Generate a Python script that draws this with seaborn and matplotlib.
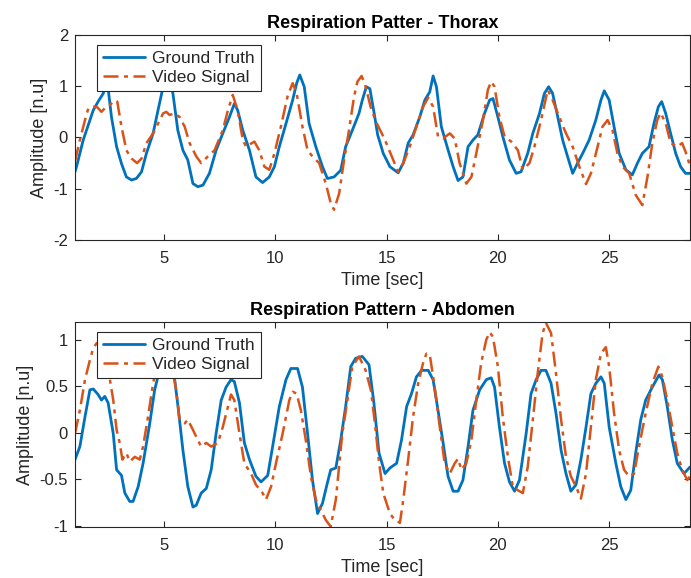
import matplotlib
matplotlib.use("Agg")
import matplotlib.pyplot as plt
import seaborn as sns
import pandas as pd

# thorax, ground truth (time in sec, amplitude in n.u.)
thorax_gt_t = [1.0, 1.07, 1.37, 1.82, 2.04, 2.27, 2.45, 2.64, 2.87, 3.09, 3.31, 3.54, 3.76, 3.99,
               4.21, 4.51, 4.73, 4.96, 5.2, 5.4, 5.62, 5.85, 6.07, 6.3, 6.52, 6.75, 7.04, 7.34,
               7.64, 7.94, 8.16, 8.31, 8.54, 8.84, 9.13, 9.43, 9.73, 9.96, 10.18, 10.48, 10.78,
               10.96, 11.1, 11.3, 11.52, 11.82, 12.12, 12.34, 12.64, 12.94, 13.16, 13.46, 13.76,
               13.91, 14.09, 14.25, 14.45, 14.6, 14.85, 15.15, 15.52, 15.75, 15.97, 16.19, 16.49,
               16.72, 16.94, 17.09, 17.24, 17.46, 17.76, 17.99, 18.21, 18.43, 18.66, 18.88, 19.1,
               19.4, 19.63, 19.78, 20.0, 20.22, 20.52, 20.82, 21.04, 21.34, 21.57, 21.87, 22.09,
               22.28, 22.46, 22.69, 22.91, 23.13, 23.36, 23.58, 23.81, 24.1, 24.4, 24.63, 24.78,
               25.0, 25.22, 25.45, 25.75, 26.04, 26.27, 26.49, 26.79, 27.01, 27.21, 27.36, 27.54,
               27.76, 27.99, 28.21, 28.43, 28.63]
thorax_gt = [-0.67, -0.57, -0.05, 0.53, 0.7, 0.86, 1.1, 0.4, -0.18, -0.51, -0.77, -0.83, -0.8, -0.67,
             -0.31, 0.08, 0.53, 0.99, 1.22, 0.86, 0.14, -0.25, -0.44, -0.9, -0.96, -0.93, -0.7, -0.25,
             0.08, 0.4, 0.66, 0.53, 0.14, -0.25, -0.77, -0.88, -0.77, -0.57, -0.18, 0.27, 0.73,
             1.06, 1.22, 0.99, 0.27, -0.18, -0.57, -0.8, -0.77, -0.64, -0.18, 0.14, 0.47,
             0.73, 0.99, 0.95, 0.45, 0.05, -0.31, -0.57, -0.69, -0.5, -0.11, 0.05, 0.4,
             0.73, 0.89, 1.2, 0.99, 0.21, -0.24, -0.57, -0.84, -0.77, -0.18, -0.05, 0.05,
             0.47, 0.73, 0.76, 0.4, 0.02, -0.44, -0.7, -0.67, -0.31, 0.08, 0.47, 0.86,
             0.99, 0.86, 0.4, -0.05, -0.37, -0.7, -0.5, -0.31, -0.05, 0.34, 0.73, 0.91,
             0.73, 0.21, -0.31, -0.63, -0.73, -0.5, -0.31, -0.18, 0.27, 0.6, 0.7, 0.47,
             0.08, -0.31, -0.57, -0.7, -0.7]

# thorax, video signal
thorax_vid_t = [1.0, 1.22, 1.45, 1.6, 1.82, 2.0, 2.19, 2.34, 2.57, 2.75, 2.9, 3.09, 3.31, 3.54, 3.79,
                3.99, 4.21, 4.51, 4.73, 4.96, 5.1, 5.25, 5.48, 5.7, 5.93, 6.15, 6.45, 6.67, 6.97,
                7.27, 7.64, 7.87, 8.09, 8.31, 8.54, 8.69, 9.06, 9.28, 9.51, 9.73, 9.96, 10.25,
                10.55, 10.78, 10.96, 11.22, 11.45, 11.67, 11.97, 12.27, 12.49, 12.64, 12.87, 13.09,
                13.31, 13.54, 13.69, 13.88, 14.06, 14.28, 14.51, 14.93, 15.3, 15.52, 15.75, 16.04,
                16.34, 16.64, 16.87, 17.09, 17.31, 17.54, 17.84, 18.06, 18.28, 18.58, 18.81, 19.03,
                19.33, 19.55, 19.7, 19.85, 20.07, 20.3, 20.6, 20.9, 21.12, 21.42, 21.64, 21.94,
                22.24, 22.46, 22.76, 23.06, 23.36, 23.66, 23.96, 24.18, 24.48, 24.7, 24.93, 25.15,
                25.37, 25.6, 25.9, 26.19, 26.49, 26.72, 26.94, 27.16, 27.31, 27.54, 27.76, 28.06,
                28.28, 28.51, 28.63]
thorax_vid = [-0.47, -0.05, 0.34, 0.57, 0.6, 0.59, 0.5, 0.57, 0.63, 0.72, 0.7, 0.21, -0.25, -0.41, -0.5,
              -0.41, -0.11, 0.08, 0.27, 0.47, 0.5, 0.44, 0.47, 0.4, 0.21, -0.11, -0.37, -0.5, -0.37,
              -0.25, 0.14, 0.53, 0.83, 0.53, -0.05, -0.18, -0.08, -0.25, -0.57, -0.63, -0.31, 0.21,
              0.8, 1.06, 0.86, 0.21, -0.25, -0.37, -0.5, -0.9, -1.28, -1.41, -1.09, -0.44,
              0.14, 0.8, 1.09, 1.2, 0.99, 0.6, 0.32, -0.05, -0.44, -0.67, -0.5, -0.18,
              0.21, 0.6, 0.78, 0.6, 0.02, -0.02, 0.08, -0.02, -0.5, -0.9, -0.77, -0.31,
              0.34, 0.93, 1.09, 0.99, 0.4, 0.02, -0.08, -0.25, -0.63, -0.5, -0.18, 0.34,
              0.93, 0.73, 0.4, 0.08, -0.18, -0.57, -0.91, -0.7, -0.18, 0.21, 0.34, 0.14,
              -0.31, -0.57, -0.7, -1.12, -1.32, -0.77, -0.11, 0.34, 0.48, 0.28, -0.11, -0.18,
              -0.11, -0.37, -0.57]

# abdomen, ground truth
abd_gt_t = [1.0, 1.22, 1.45, 1.67, 1.82, 2.04, 2.19, 2.34, 2.49, 2.72, 2.87, 3.09, 3.24, 3.46, 3.61,
            3.84, 4.06, 4.36, 4.58, 4.85, 5.1, 5.35, 5.48, 5.63, 5.85, 6.07, 6.3, 6.45, 6.67, 6.9,
            7.12, 7.34, 7.57, 7.79, 8.01, 8.16, 8.39, 8.61, 8.84, 9.13, 9.36, 9.66, 9.88, 10.18,
            10.48, 10.7, 11.0, 11.22, 11.45, 11.67, 11.9, 12.12, 12.34, 12.49, 12.72, 12.94,
            13.16, 13.39, 13.61, 13.91, 14.21, 14.43, 14.66, 14.93, 15.15, 15.45, 15.67, 15.9,
            16.12, 16.34, 16.57, 16.87, 17.09, 17.31, 17.54, 17.76, 17.99, 18.21, 18.43, 18.66,
            18.88, 19.18, 19.48, 19.7, 19.85, 20.07, 20.3, 20.52, 20.75, 20.97, 21.27, 21.49,
            21.72, 21.94, 22.16, 22.39, 22.61, 22.84, 23.06, 23.28, 23.51, 23.73, 23.96, 24.18,
            24.4, 24.63, 24.78, 25.0, 25.3, 25.52, 25.75, 25.97, 26.19, 26.42, 26.64, 26.94,
            27.24, 27.39, 27.61, 27.84, 28.06, 28.36, 28.63]
abd_gt = [-0.29, -0.15, 0.17, 0.46, 0.47, 0.41, 0.35, 0.39, 0.32, -0.01, -0.4, -0.46, -0.65, -0.74, -0.74,
          -0.58, -0.33, 0.1, 0.46, 0.72, 0.8, 0.7, 0.57, 0.28, -0.19, -0.58, -0.8, -0.78, -0.65, -0.6,
          -0.4, -0.01, 0.35, 0.49, 0.57, 0.55, 0.32, -0.11, -0.29, -0.47, -0.53, -0.46, -0.15, 0.28,
          0.57, 0.69, 0.69, 0.49, -0.01, -0.51, -0.87, -0.76, -0.54, -0.4, -0.38, -0.08,
          0.28, 0.71, 0.8, 0.82, 0.73, 0.32, -0.22, -0.44, -0.38, -0.33, -0.08, 0.28,
          0.42, 0.6, 0.67, 0.67, 0.57, 0.24, -0.11, -0.47, -0.63, -0.63, -0.51, -0.15,
          0.24, 0.46, 0.57, 0.59, 0.49, 0.06, -0.33, -0.53, -0.63, -0.51, -0.01, 0.42,
          0.57, 0.67, 0.67, 0.53, 0.21, -0.19, -0.44, -0.63, -0.56, -0.29, 0.06, 0.42,
          0.53, 0.6, 0.53, 0.06, -0.33, -0.58, -0.72, -0.62, -0.22, 0.14, 0.35, 0.49,
          0.62, 0.57, 0.28, -0.08, -0.33, -0.44, -0.37]

# abdomen, video signal
abd_vid_t = [1.0, 1.22, 1.45, 1.67, 1.82, 1.97, 2.2, 2.4, 2.57, 2.72, 2.87, 3.01, 3.13, 3.31, 3.46,
             3.69, 3.91, 4.06, 4.28, 4.51, 4.75, 5.05, 5.35, 5.55, 5.7, 5.93, 6.07, 6.3, 6.52,
             6.67, 6.9, 7.12, 7.42, 7.64, 7.87, 8.01, 8.16, 8.39, 8.61, 8.91, 9.13, 9.43, 9.58,
             9.81, 10.03, 10.33, 10.63, 10.78, 10.96, 11.15, 11.37, 11.6, 11.82, 12.04, 12.27,
             12.49, 12.72, 13.01, 13.24, 13.46, 13.76, 14.06, 14.3, 14.5, 14.65, 14.85, 15.15,
             15.37, 15.6, 15.75, 15.97, 16.19, 16.42, 16.64, 16.79, 16.94, 17.16, 17.39, 17.61,
             17.84, 18.06, 18.21, 18.36, 18.58, 18.81, 19.03, 19.25, 19.48, 19.63, 19.78, 20.0,
             20.22, 20.45, 20.67, 20.9, 21.12, 21.34, 21.57, 21.79, 22.01, 22.16, 22.39, 22.61,
             22.84, 23.06, 23.28, 23.51, 23.73, 23.96, 24.18, 24.4, 24.63, 24.85, 25.0, 25.22,
             25.45, 25.67, 25.9, 26.12, 26.34, 26.64, 26.94, 27.21, 27.39, 27.61, 27.84, 28.06,
             28.28, 28.51, 28.63]
abd_vid = [-0.01, 0.24, 0.57, 0.78, 0.91, 0.96, 1.0, 0.8, 0.57, 0.35, 0.03, -0.11, -0.29, -0.22, -0.31,
           -0.26, -0.29, -0.15, 0.17, 0.53, 0.8, 0.88, 0.75, 0.45, 0.14, 0.1, 0.14, 0.03, -0.08,
           -0.15, -0.11, -0.15, -0.11, 0.06, 0.28, 0.41, 0.35, -0.01, -0.33, -0.44, -0.56, -0.65, -0.72,
           -0.58, -0.33, -0.01, 0.35, 0.44, 0.42, 0.24, -0.08, -0.47, -0.72, -0.83, -0.94,
           -1.01, -0.72, -0.01, 0.35, 0.71, 0.82, 0.67, 0.45, 0.05, -0.3, -0.65, -0.87,
           -0.94, -0.97, -0.72, -0.29, 0.17, 0.53, 0.75, 0.85, 0.84, 0.49, 0.06, -0.33,
           -0.44, -0.33, -0.28, -0.4, -0.33, -0.08, 0.35, 0.75, 1.0, 1.08, 1.03, 0.71,
           0.17, -0.26, -0.58, -0.62, -0.65, -0.37, 0.14, 0.64, 1.07, 1.18, 1.07, 0.64,
           0.14, -0.26, -0.47, -0.58, -0.71, -0.44, 0.06, 0.57, 0.85, 0.92, 0.71, 0.21,
           -0.19, -0.4, -0.47, -0.44, -0.15, 0.21, 0.53, 0.71, 0.6, 0.35, 0.06, -0.22,
           -0.4, -0.51, -0.47]

BLUE = "#0072BD"
ORANGE = "#D95319"
DASHDOT = (0, (6, 2.2, 1.6, 2.2))

sns.set_style("ticks")
plt.rcParams["font.family"] = ["Liberation Sans", "DejaVu Sans"]

fig = plt.figure(figsize=(6.91, 5.78), dpi=100)
ax1 = fig.add_axes([0.1085, 0.5848, 0.89, 0.3547])
ax2 = fig.add_axes([0.1085, 0.0882, 0.89, 0.3547])

panels = [
    (ax1, thorax_gt_t, thorax_gt, thorax_vid_t, thorax_vid, "Respiration Patter - Thorax",
     (-2, 2), [-2, -1, 0, 1, 2], ["-2", "-1", "0", "1", "2"]),
    (ax2, abd_gt_t, abd_gt, abd_vid_t, abd_vid, "Respiration Pattern - Abdomen",
     (-1.015, 1.19), [-1, -0.5, 0, 0.5, 1], ["-1", "-0.5", "0", "0.5", "1"]),
]

for ax, gt_t, gt, vid_t, vid, title, ylim, yticks, ylabels in panels:
    gt_df = pd.DataFrame({"t": gt_t, "v": gt})
    vid_df = pd.DataFrame({"t": vid_t, "v": vid})
    sns.lineplot(data=gt_df, x="t", y="v", ax=ax, color=BLUE, linewidth=2.0,
                 label="Ground Truth", estimator=None, sort=False)
    sns.lineplot(data=vid_df, x="t", y="v", ax=ax, color=ORANGE, linewidth=1.8,
                 linestyle=DASHDOT, label="Video Signal", estimator=None, sort=False)

    ax.set_xlim(1, 28.63)
    ax.set_ylim(*ylim)
    ax.set_xticks([5, 10, 15, 20, 25])
    ax.set_xticklabels(["5", "10", "15", "20", "25"])
    ax.set_yticks(yticks)
    ax.set_yticklabels(ylabels)
    ax.set_title(title, fontsize=13, fontweight="bold", pad=5, color="black")
    ax.set_xlabel("Time [sec]", fontsize=13, color="#262626", labelpad=4)
    ax.set_ylabel("Amplitude [n.u]", fontsize=13, color="#262626", labelpad=4)
    ax.tick_params(direction="in", length=4, width=0.8, color="#262626",
                   labelsize=12, labelcolor="#262626", top=True, right=True, pad=5)
    ax.tick_params(axis="x", pad=8)
    for sp in ax.spines.values():
        sp.set_visible(True)
        sp.set_color("#262626")
        sp.set_linewidth(0.8)
    leg = ax.legend(loc="upper left", bbox_to_anchor=(0.036, 0.951), borderaxespad=0,
                    fontsize=12.5, handlelength=2.4, handletextpad=0.4, labelspacing=0.2,
                    borderpad=0.35, fancybox=False, framealpha=1)
    leg.get_frame().set_edgecolor("#262626")
    leg.get_frame().set_linewidth(0.8)

fig.savefig("out.png", dpi=100)
